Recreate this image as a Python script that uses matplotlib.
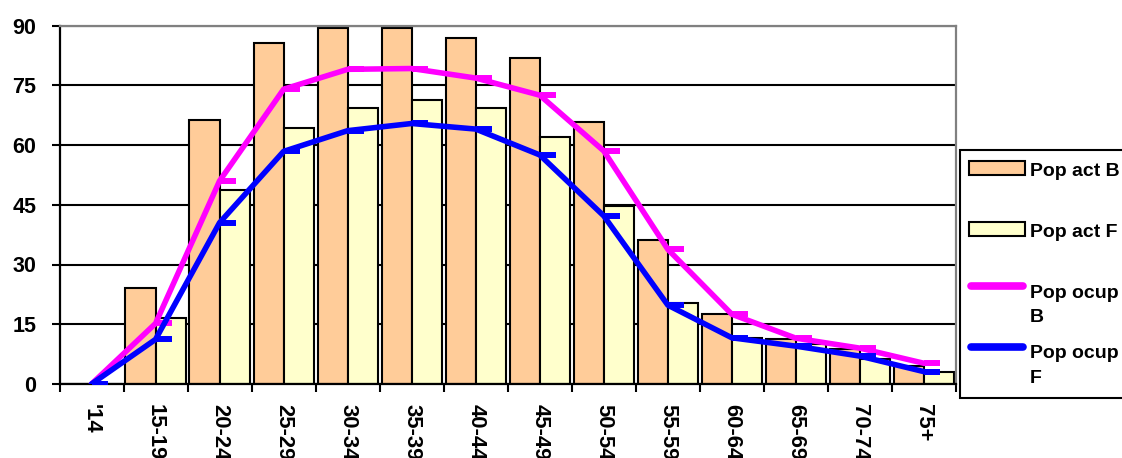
import numpy as np
import matplotlib
matplotlib.use("Agg")
import matplotlib.pyplot as plt
from matplotlib.path import Path
from matplotlib.patches import Rectangle
from matplotlib.lines import Line2D

plt.rcParams['font.family'] = ['Liberation Sans', 'DejaVu Sans']
plt.rcParams['font.weight'] = 'bold'

categories = ["'14", "15-19", "20-24", "25-29", "30-34", "35-39", "40-44",
              "45-49", "50-54", "55-59", "60-64", "65-69", "70-74", "75+"]
pop_act_b = [0, 24.1, 66.3, 85.7, 89.4, 89.3, 86.9, 81.8, 65.8, 36.1, 17.5, 11.4, 8.7, 4.5]
pop_act_f = [0, 16.5, 48.8, 64.2, 69.3, 71.4, 69.4, 62.1, 44.7, 20.4, 11.6, 10.0, 6.3, 3.1]
pop_ocup_b = [0, 15.2, 51.0, 74.0, 79.0, 79.2, 76.8, 72.5, 58.5, 33.8, 17.5, 11.5, 9.0, 5.2]
pop_ocup_f = [0, 11.2, 40.5, 58.4, 63.6, 65.4, 64.0, 57.5, 42.2, 19.8, 11.6, 9.5, 7.0, 3.1]
yticks = [0, 15, 30, 45, 60, 75, 90]
labels = ["Pop act B", "Pop act F", "Pop ocup\nB", "Pop ocup\nF"]

c_b, c_f = '#FFCC99', '#FFFFCC'
c_lb, c_lf = '#FF00FF', '#0000FF'

W, H = 1122, 458
fig = plt.figure(figsize=(W / 100, H / 100), dpi=100)
ax = fig.add_axes([59.5 / W, (H - 384) / H, (956 - 59.5) / W, (384 - 25.5) / H])

x = np.arange(len(categories))
bw = 0.47
ax.bar(x - bw / 2, pop_act_b, width=bw, color=c_b, edgecolor='black', linewidth=1.5, zorder=2)
ax.bar(x + bw / 2, pop_act_f, width=bw, color=c_f, edgecolor='black', linewidth=1.5, zorder=2)

dash = Path([(0, 0), (1, 0)])
for vals, col in [(pop_ocup_b, c_lb), (pop_ocup_f, c_lf)]:
    ax.plot(x, vals, color=col, lw=4.0, zorder=3, solid_joinstyle='round',
            solid_capstyle='round',
            marker=dash, markersize=23, markeredgewidth=4.3,
            markeredgecolor=col, markerfacecolor=col)

ax.set_xlim(-0.5, len(categories) - 0.5)
ax.set_ylim(0, 90)
ax.set_yticks(yticks)
ax.set_yticklabels([str(v) for v in yticks], fontsize=15.5, fontweight='bold')
ax.yaxis.grid(True, color='black', linewidth=1.5, zorder=0)
ax.set_axisbelow(True)

ax.set_xticks(np.arange(-0.5, len(categories), 1.0))
ax.set_xticklabels([])
ax.set_xticks(x, minor=True)
ax.set_xticklabels(categories, minor=True, rotation=-90, fontsize=15.8,
                   fontweight='bold', va='top', ha='center')
ax.tick_params(axis='x', which='major', length=6, width=1.5, direction='out')
ax.tick_params(axis='x', which='minor', length=0, pad=14.5)
ax.tick_params(axis='y', which='major', length=6, width=1.5, direction='out', pad=10.5)

for s in ['left', 'bottom']:
    ax.spines[s].set_color('black')
    ax.spines[s].set_linewidth(1.6)
for s in ['top', 'right']:
    ax.spines[s].set_color('#808080')
    ax.spines[s].set_linewidth(1.6)

# legend drawn in pixel coordinates on an overlay
ov = fig.add_axes([0, 0, 1, 1], zorder=5)
ov.set_xlim(0, W)
ov.set_ylim(H, 0)
ov.axis('off')
ov.add_patch(Rectangle((960.5, 149.5), 200, 248.5, facecolor='white',
                       edgecolor='black', linewidth=1.5, clip_on=False))
ov.add_patch(Rectangle((969, 161), 56, 14, facecolor=c_b, edgecolor='black', linewidth=1.5))
ov.add_patch(Rectangle((969, 222), 56, 14, facecolor=c_f, edgecolor='black', linewidth=1.5))
ov.add_line(Line2D([971, 1023], [286, 286], color=c_lb, lw=5.5, solid_capstyle='round'))
ov.add_line(Line2D([971, 1023], [347, 347], color=c_lf, lw=5.5, solid_capstyle='round'))
baselines = [[176], [237], [297.5, 322], [357.5, 383]]
for lab, bls in zip(labels, baselines):
    for line, b in zip(lab.split('\n'), bls):
        ov.text(1030, b, line, fontsize=14, fontweight='bold', va='baseline', ha='left')

fig.savefig('out.png', dpi=100)
